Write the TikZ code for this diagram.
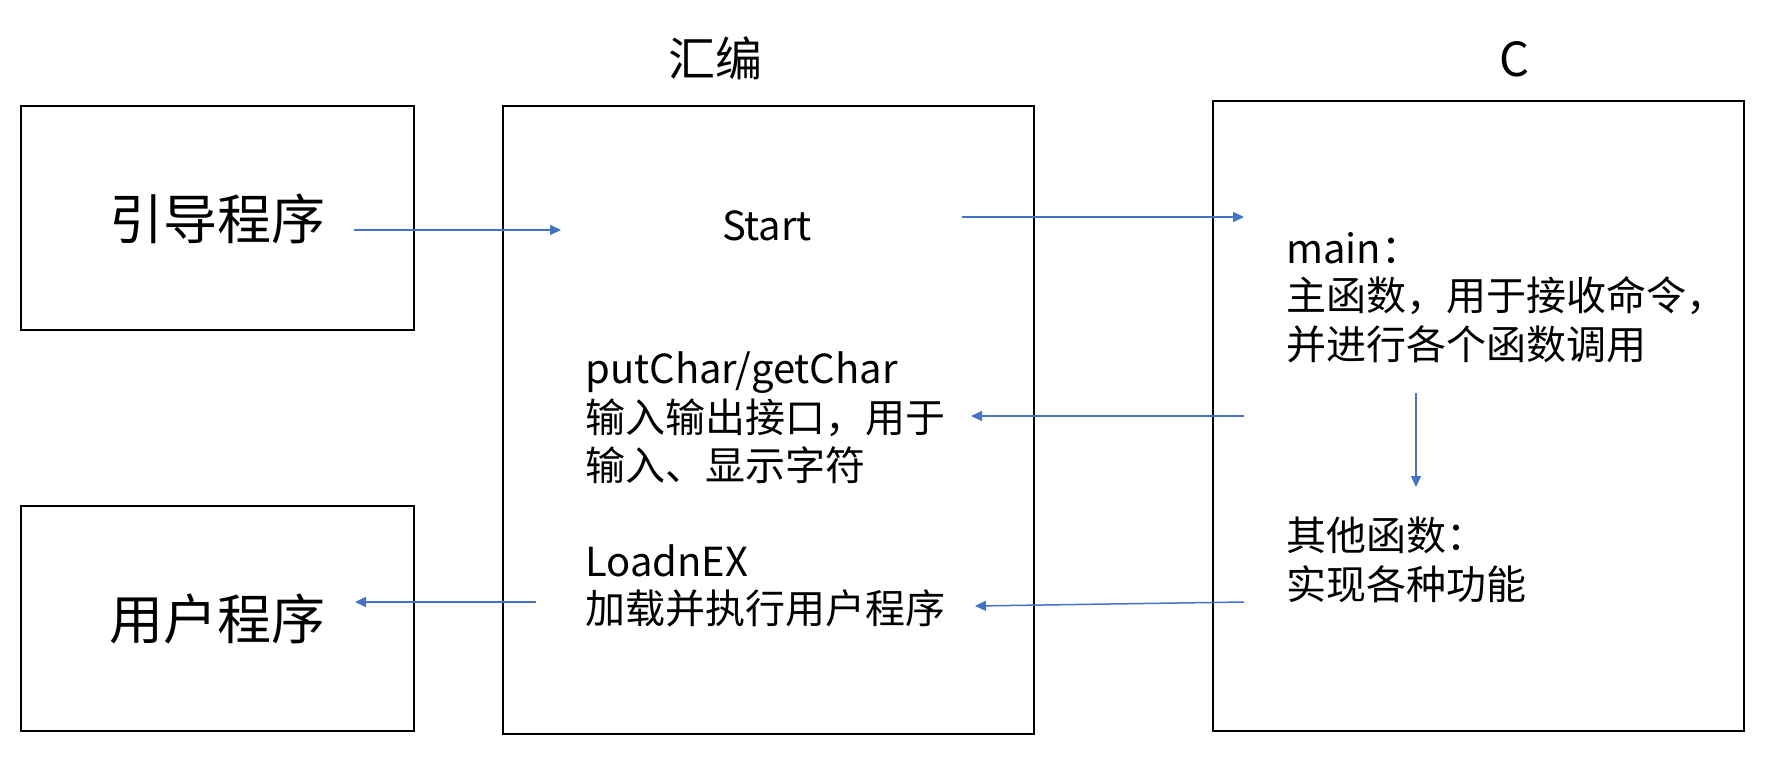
\documentclass[tikz,border=0pt]{standalone}
\usepackage{fontspec}
\setmainfont{Noto Sans CJK SC}
\usetikzlibrary{arrows.meta}
\definecolor{arrblue}{HTML}{4472C4}
\begin{document}
\begin{tikzpicture}[x=0.5pt,y=-0.5pt,
  box/.style={draw=black,line width=1pt,inner sep=0pt,anchor=north west},
  txt/.style={anchor=base west,inner sep=0pt,font=\fontsize{20}{24}\selectfont},
  big/.style={inner sep=0pt,font=\fontsize{27}{32}\selectfont},
  ttl/.style={inner sep=0pt,font=\fontsize{23.5}{28}\selectfont},
  arr/.style={draw=arrblue,line width=0.75pt,-{Triangle[length=5.5pt,width=5pt]}}]
\useasboundingbox (0,0) rectangle (1770,756);
% boxes
\node[box,minimum width=196.5pt,minimum height=112pt] (boot) at (20,105) {};
\node[box,minimum width=196.5pt,minimum height=112.5pt] (user) at (20,505) {};
\node[box,minimum width=265.5pt,minimum height=314pt] (asm) at (502,105) {};
\node[box,minimum width=265.5pt,minimum height=315pt] (cbox) at (1212,100) {};
% titles
\node[ttl] (asmtitle) at (715,58) {汇编};
\node[ttl] (ctitle) at (1514,59) {C};
% big labels
\node[big] (boottext) at (217,219) {引导程序};
\node[big] (usertext) at (217,619) {用户程序};
% assembly texts
\node[txt,anchor=base] (start) at (767,240) {Start};
\node[txt] (put1) at (585,383) {putChar/getChar};
\node[txt] (put2) at (585,432) {输入输出接口，用于};
\node[txt] (put3) at (585,480) {输入、显示字符};
\node[txt] (load1) at (585,576) {LoadnEX};
\node[txt] (load2) at (585,623) {加载并执行用户程序};
% C texts
\node[txt] (main1) at (1286,263) {main：};
\node[txt] (main2) at (1286,310) {主函数，用于接收命令，};
\node[txt] (main3) at (1286,359) {并进行各个函数调用};
\node[txt] (oth1) at (1286,550) {其他函数：};
\node[txt] (oth2) at (1286,599) {实现各种功能};
% arrow end points
\coordinate (a1s) at (354,230);
\coordinate (a1e) at (561,230);
\coordinate (a2s) at (962,217);
\coordinate (a2e) at (1244,217);
\coordinate (a3s) at (1244,416);
\coordinate (a3e) at (971,416);
\coordinate (a4s) at (536,602);
\coordinate (a4e) at (355,602);
\coordinate (a5s) at (1416,393);
\coordinate (a5e) at (1416,487);
\coordinate (a6s) at (1244,602);
\coordinate (a6e) at (975,606);
\draw[arr] (a1s) -- (a1e);
\draw[arr] (a2s) -- (a2e);
\draw[arr] (a3s) -- (a3e);
\draw[arr] (a4s) -- (a4e);
\draw[arr] (a5s) -- (a5e);
\draw[arr] (a6s) -- (a6e);
\end{tikzpicture}
\end{document}
